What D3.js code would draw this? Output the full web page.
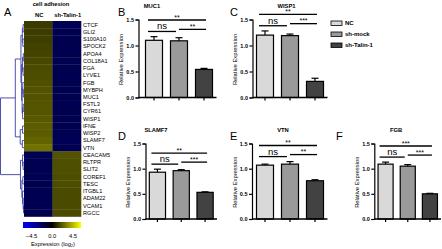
<!DOCTYPE html>
<html>
<head>
<meta charset="utf-8">
<script src="https://cdn.jsdelivr.net/npm/d3@7"></script>
<style>
body { margin: 0; background: #fff; }
text { font-family: "Liberation Sans", Arial, sans-serif; }
</style>
</head>
<body>
<svg id="fig" width="442" height="249"></svg>
<script>
// ---- heatmap data (cell adhesion genes, log2 expression) ----
var genes = ["CTCF", "GLI2", "S100A10", "SPOCK2", "APOA4", "COL18A1", "FGA", "LYVE1", "FGB",
    "MYBPH", "MUC1", "FSTL3", "CYR61", "WISP1", "IFNE", "WISP2", "SLAMF7", "VTN",
    "CEACAM5", "RLTPR", "SLIT2", "COREF1", "TESC", "ITGBL1", "ADAM22", "VCAM1", "RGCC"];
var hmColumns = ["NC", "sh-Talin-1"];
var hmNC = [1.0, 1.05, 1.1, 1.15, 1.2, 1.25, 1.3, 1.35, 1.4, 1.45, 1.45, 1.5, 1.5, 1.55, 1.6, 1.6, 1.75, 2.0,
    -1.45, -1.45, -1.4, -1.45, -1.4, -1.45, -1.4, -1.45, -1.4];
var hmSh = [-1.45, -1.45, -1.4, -1.45, -1.4, -1.45, -1.4, -1.45, -1.4, -1.45, -1.4, -1.45, -1.4, -1.45, -1.4, -1.45, -1.5, -1.45,
    1.45, 1.4, 1.4, 1.35, 1.35, 1.3, 1.3, 1.3, 1.3];
var cbTicks = [-4.5, 0, 4.5];
// [merge height, child, child ...]
var dendro = [10,
    [3.7,
        [1.3,
            [0.7, [0.4, "CTCF", "GLI2"], [0.5, "S100A10", "SPOCK2"]],
            [1.0,
                [0.6, [0.3, "APOA4", "COL18A1"], [0.4, "FGA", "LYVE1"]],
                [0.8, [0.5, "FGB", [0.3, "MYBPH", "MUC1"]], [0.6, [0.35, "FSTL3", "CYR61"], "WISP1"]]]],
        [1.6, [0.6, "IFNE", "WISP2"], [0.7, "SLAMF7", "VTN"]]],
    [1.5,
        [0.6, "CEACAM5", [0.4, "RLTPR", "SLIT2"]],
        [0.9, [0.5, "COREF1", "TESC"], [0.6, "ITGBL1", [0.35, "ADAM22", [0.2, "VCAM1", "RGCC"]]]]]];

// ---- qPCR bar data ----
var groups = ["NC", "sh-mock", "sh-Talin-1"];
var panelGenes = ["MUC1", "WISP1", "SLAMF7", "VTN", "FGB"];
var panelLetters = ["B", "C", "D", "E", "F"];
var muc1 = [1.10, 1.09, 0.54], muc1Err = [0.07, 0.06, 0.02];
var wisp1 = [1.20, 1.19, 0.31], wisp1Err = [0.08, 0.03, 0.06];
var slamf7 = [0.93, 0.96, 0.53], slamf7Err = [0.06, 0.02, 0.01];
var vtn = [1.07, 1.09, 0.76], vtnErr = [0.02, 0.05, 0.02];
var fgb = [1.09, 1.05, 0.50], fgbErr = [0.04, 0.03, 0.01];
// significance: [NC vs sh-Talin-1, NC vs sh-mock, sh-mock vs sh-Talin-1]
var sigLabels = [["**", "ns", "**"], ["**", "ns", "***"], ["**", "ns", "***"], ["**", "ns", "**"], ["***", "ns", "***"]];
var yTicks = [0, 0.5, 1, 1.5];

var means = [muc1, wisp1, slamf7, vtn, fgb];
var errs = [muc1Err, wisp1Err, slamf7Err, vtnErr, fgbErr];

var svg = d3.select("#fig");
var barFill = d3.scaleOrdinal().domain(groups).range(["#d9d9d9", "#9a9a9a", "#424242"]);

// ================= panel A : heatmap =================
var hmX = d3.scaleBand().domain(hmColumns).range([24, 81]);
var hmY = d3.scaleBand().domain(genes).range([21, 216.5]);
var hmColor = d3.scaleLinear().domain([-4.5, 0, 4.5]).range(["#0000ff", "#000000", "#ffff00"]);

var cells = [];
genes.forEach(function(g, i) {
    cells.push({gene: g, col: "NC", v: hmNC[i]});
    cells.push({gene: g, col: "sh-Talin-1", v: hmSh[i]});
});

svg.append("g").selectAll("rect")
    .data(cells)
    .enter()
    .append("rect")
    .attr("x", function(d) { return hmX(d.col); })
    .attr("y", function(d) { return hmY(d.gene); })
    .attr("width", hmX.bandwidth() + 0.3)
    .attr("height", hmY.bandwidth() + 0.3)
    .attr("fill", function(d) { return hmColor(d.v); });

svg.append("g").selectAll("text")
    .data(genes)
    .enter()
    .append("text")
    .attr("x", 83)
    .attr("y", function(d) { return hmY(d) + hmY.bandwidth() / 2; })
    .attr("dy", "0.35em")
    .attr("font-size", 5.6)
    .text(function(d) { return d; });

svg.append("g").selectAll("text")
    .data(hmColumns)
    .enter()
    .append("text")
    .attr("x", function(d) { return hmX(d) + hmX.bandwidth() / 2 + 1; })
    .attr("y", 17)
    .attr("text-anchor", "middle")
    .attr("font-size", 5.8)
    .attr("font-weight", "bold")
    .text(function(d) { return d; });

svg.append("text")
    .attr("x", 51).attr("y", 6)
    .attr("text-anchor", "middle")
    .attr("font-size", 5.8)
    .attr("font-weight", "bold")
    .text("cell adhesion");

svg.append("text").attr("x", 4).attr("y", 16).attr("font-size", 11).text("A");

// dendrogram
var dX = d3.scaleLinear().domain([0, 10]).range([24, 0.5]);

function build(n) {
    if (typeof n === "string") {
        return {name: n, h: 0, y: hmY(n) + hmY.bandwidth() / 2};
    }
    var kids = n.slice(1).map(build);
    return {h: n[0], children: kids, y: (kids[0].y + kids[kids.length - 1].y) / 2};
}
var root = build(dendro);
var segs = [];
(function walk(nd) {
    if (!nd.children) return;
    segs.push({x1: dX(nd.h), x2: dX(nd.h), y1: nd.children[0].y, y2: nd.children[nd.children.length - 1].y});
    nd.children.forEach(function(c) {
        segs.push({x1: dX(nd.h), x2: dX(c.h), y1: c.y, y2: c.y});
        walk(c);
    });
})(root);

svg.append("g").selectAll("line")
    .data(segs)
    .enter()
    .append("line")
    .attr("x1", function(d) { return d.x1; })
    .attr("x2", function(d) { return d.x2; })
    .attr("y1", function(d) { return d.y1; })
    .attr("y2", function(d) { return d.y2; })
    .attr("stroke", "#3c3ca6")
    .attr("stroke-width", 0.9);

// colour bar
var grad = svg.append("defs").append("linearGradient").attr("id", "cb");
grad.selectAll("stop")
    .data(cbTicks)
    .enter()
    .append("stop")
    .attr("offset", function(d, i) { return (i * 50) + "%"; })
    .attr("stop-color", function(d) { return hmColor(d); });
svg.append("rect").attr("x", 23).attr("y", 222).attr("width", 58).attr("height", 6).attr("fill", "url(#cb)");

var cbX = d3.scaleLinear().domain([-4.5, 4.5]).range([31.5, 73]);
svg.append("g").selectAll("text")
    .data(cbTicks)
    .enter()
    .append("text")
    .attr("x", function(d) { return cbX(d); })
    .attr("y", 237.5)
    .attr("text-anchor", "middle")
    .attr("font-size", 5.8)
    .text(function(d) { return d3.format(".1f")(d).replace("-", "-"); });
svg.append("text")
    .attr("x", 53).attr("y", 245.5)
    .attr("text-anchor", "middle")
    .attr("font-size", 5.8)
    .text("Expression (log\u2082)");

// ================= panels B-F : bar charts =================
var layout = [
    {ax: 138.5, b0: 141.5, b1: 216.5, yb: 97.5, yt: 19.5, tx: 152, lx: 118, row: 0},
    {ax: 252.5, b0: 252.5, b1: 327.5, yb: 97.5, yt: 19.5, tx: 286.5, lx: 230, row: 0},
    {ax: 145.5, b0: 145.5, b1: 217, yb: 219, yt: 143.5, tx: 156, lx: 118, row: 1},
    {ax: 252, b0: 252.5, b1: 327.5, yb: 219, yt: 143.5, tx: 283, lx: 230, row: 1},
    {ax: 374.3, b0: 374.5, b1: 441, yb: 219, yt: 143.5, tx: 396, lx: 336, row: 1}
];

panelGenes.forEach(function(gene, p) {
    var L = layout[p];
    var g = svg.append("g");
    var x = d3.scaleBand().domain(groups).range([L.b0, L.b1]).paddingInner(0.32).paddingOuter(0.16);
    var y = d3.scaleLinear().domain([0, 1.5]).range([L.yb, L.yt]);
    var rows = groups.map(function(k, i) { return {grp: k, v: means[p][i], e: errs[p][i]}; });

    // bars
    g.selectAll("rect.bar")
        .data(rows)
        .enter()
        .append("rect")
        .attr("x", function(d) { return x(d.grp); })
        .attr("y", function(d) { return y(d.v); })
        .attr("width", x.bandwidth())
        .attr("height", function(d) { return y(0) - y(d.v); })
        .attr("fill", function(d) { return barFill(d.grp); })
        .attr("stroke", "#000")
        .attr("stroke-width", 1.2);

    // error bars
    var eb = g.selectAll("g.err").data(rows).enter().append("g");
    eb.append("line")
        .attr("x1", function(d) { return x(d.grp) + x.bandwidth() / 2; })
        .attr("x2", function(d) { return x(d.grp) + x.bandwidth() / 2; })
        .attr("y1", function(d) { return y(d.v); })
        .attr("y2", function(d) { return y(d.v + d.e); })
        .attr("stroke", "#000").attr("stroke-width", 1.2);
    eb.append("line")
        .attr("x1", function(d) { return x(d.grp) + x.bandwidth() / 2 - 3.5; })
        .attr("x2", function(d) { return x(d.grp) + x.bandwidth() / 2 + 3.5; })
        .attr("y1", function(d) { return y(d.v + d.e); })
        .attr("y2", function(d) { return y(d.v + d.e); })
        .attr("stroke", "#000").attr("stroke-width", 1.2);

    // axes
    var ya = g.append("g")
        .attr("transform", "translate(" + L.ax + ",0)")
        .call(d3.axisLeft(y).tickValues(yTicks).tickFormat(d3.format(".1f")).tickSize(3).tickPadding(1.5));
    var xa = g.append("g")
        .attr("transform", "translate(0," + L.yb + ")")
        .call(d3.axisBottom(x).tickSize(3).tickFormat(""));
    xa.select(".domain").remove();
    g.append("line")
        .attr("x1", L.ax).attr("x2", L.b1)
        .attr("y1", L.yb).attr("y2", L.yb)
        .attr("stroke", "#000").attr("stroke-width", 1.3);
    [ya, xa].forEach(function(a) {
        a.selectAll("path,line").attr("stroke", "#000").attr("stroke-width", 1.2);
        a.selectAll("text").attr("font-size", 5.5).attr("font-weight", "bold").attr("fill", "#000")
            .style("font-family", "'Liberation Sans', Arial, sans-serif");
    });

    g.append("text")
        .attr("transform", "translate(" + (L.ax - 15.5) + "," + ((L.yb + L.yt) / 2 + 1) + ") rotate(-90)")
        .attr("text-anchor", "middle")
        .attr("font-size", 5.8)
        .text("Relative Expression");

    g.append("text")
        .attr("x", L.tx).attr("y", L.yt - 12)
        .attr("text-anchor", "middle")
        .attr("font-size", 5.8)
        .attr("font-weight", "bold")
        .text(gene);
    g.append("text")
        .attr("x", L.lx).attr("y", L.yt - 3.5)
        .attr("font-size", 11)
        .text(panelLetters[p]);

    // significance brackets
    var c = groups.map(function(k) { return x(k) + x.bandwidth() / 2; });
    var m = d3.max(rows.slice(0, 2), function(d) { return d.v + d.e; });
    var nsV = m + 0.1, rV = nsV + 0.04, topV = nsV + 0.22;
    var sig = [
        {x1: c[0] - 6, x2: c[2] + 2, v: topV, t: sigLabels[p][0]},
        {x1: c[0] - 6, x2: c[1] - 3, v: nsV, t: sigLabels[p][1]},
        {x1: c[1], x2: c[2] + 2, v: rV, t: sigLabels[p][2]}
    ];
    g.selectAll("line.sig")
        .data(sig)
        .enter()
        .append("line")
        .attr("x1", function(d) { return d.x1; })
        .attr("x2", function(d) { return d.x2; })
        .attr("y1", function(d) { return y(d.v); })
        .attr("y2", function(d) { return y(d.v); })
        .attr("stroke", "#000").attr("stroke-width", 1.3);
    g.selectAll("text.sig")
        .data(sig)
        .enter()
        .append("text")
        .attr("x", function(d) { return (d.x1 + d.x2) / 2; })
        .attr("y", function(d) { return y(d.v) - (d.t === "ns" ? 2 : 0.5); })
        .attr("text-anchor", "middle")
        .attr("font-size", function(d) { return d.t === "ns" ? 9.5 : 7; })
        .text(function(d) { return d.t; });
});

// legend
var lg = svg.append("g").selectAll("g")
    .data(groups)
    .enter()
    .append("g")
    .attr("transform", function(d, i) { return "translate(331," + (21 + i * 11) + ")"; });
lg.append("rect")
    .attr("width", 11).attr("height", 4.5)
    .attr("fill", function(d) { return barFill(d); })
    .attr("stroke", "#000").attr("stroke-width", 0.8);
lg.append("text")
    .attr("x", 14).attr("y", 2.3)
    .attr("dy", "0.35em")
    .attr("font-size", 6)
    .attr("font-weight", "bold")
    .text(function(d) { return d; });
</script>
</body>
</html>
